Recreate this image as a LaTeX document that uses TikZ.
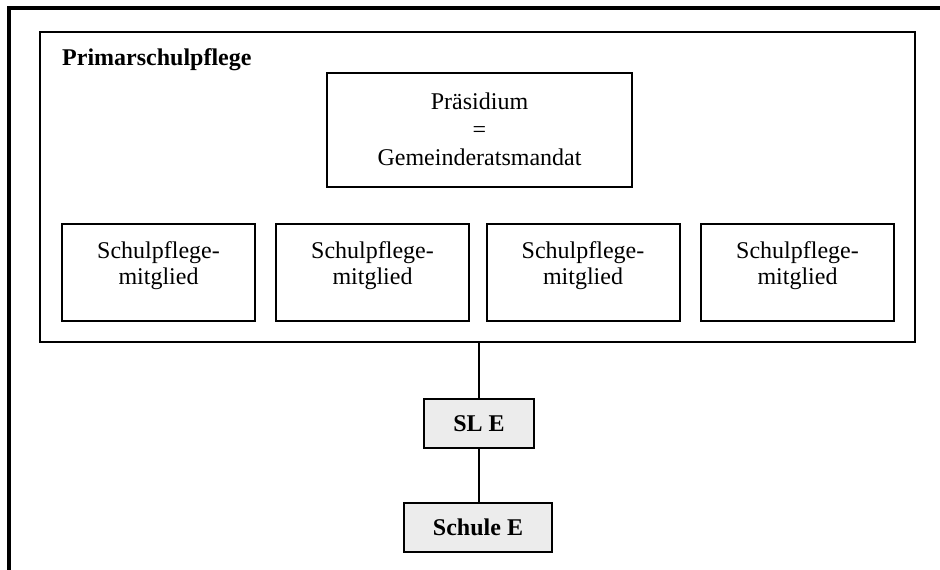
\documentclass[tikz,border=0pt]{standalone}
\usepackage{fontspec}
\setmainfont{Liberation Serif}
\begin{document}
\begin{tikzpicture}[x=1pt,y=-1pt,
  frameline/.style={line width=3.5pt},
  groupbox/.style={draw, line width=2.2pt, inner sep=0pt},
  mbox/.style={draw, line width=2pt, minimum width=193pt, minimum height=97pt, inner sep=0pt},
  mtext/.style={align=center, font=\fontsize{24}{26.6}\selectfont, yshift=7pt},
  ptext/.style={align=center, font=\fontsize{24}{28}\selectfont, yshift=1pt},
  pbox/.style={draw, line width=2.4pt, minimum width=305pt, minimum height=114pt, inner sep=0pt},
  gbox/.style={draw, line width=2pt, fill=gray!15, minimum height=49pt, inner sep=0pt, font=\fontsize{24}{28}\selectfont\bfseries},
  conn/.style={line width=2pt}
]
\useasboundingbox (0,0) rectangle (940,570);
% outer open frame
\coordinate (fbot) at (9,575);
\coordinate (fcorner) at (9,8);
\coordinate (fright) at (945,8);
\draw[frameline] (fbot) -- (fcorner) -- (fright);
% group box
\node[groupbox, minimum width=875pt, minimum height=310pt] (group) at (477.5,187) {};
\node[anchor=base west, inner sep=0pt, font=\fontsize{24}{28}\selectfont\bfseries] (title) at (62,65) {Primarschulpflege};
% Praesidium
\node[pbox, label={[ptext]center:Präsidium\\=\\Gemeinderatsmandat}] (praes) at (479.5,130) {};
% members
\node[mbox, label={[mtext]center:Schulpflege-\\mitglied}] (m1) at (158.5,272.5) {};
\node[mbox, label={[mtext]center:Schulpflege-\\mitglied}] (m2) at (372.5,272.5) {};
\node[mbox, label={[mtext]center:Schulpflege-\\mitglied}] (m3) at (583,272.5) {};
\node[mbox, label={[mtext]center:Schulpflege-\\mitglied}] (m4) at (797.5,272.5) {};
% SL E and Schule E
\node[gbox, minimum width=110pt] (sle) at (479,423.5) {SL E};
\node[gbox, minimum width=148pt] (schule) at (478,527.5) {Schule E};
% connectors
\draw[conn] (sle.north) -- (sle.north |- group.south);
\draw[conn] (sle.south) -- (sle.south |- schule.north);
\end{tikzpicture}
\end{document}
